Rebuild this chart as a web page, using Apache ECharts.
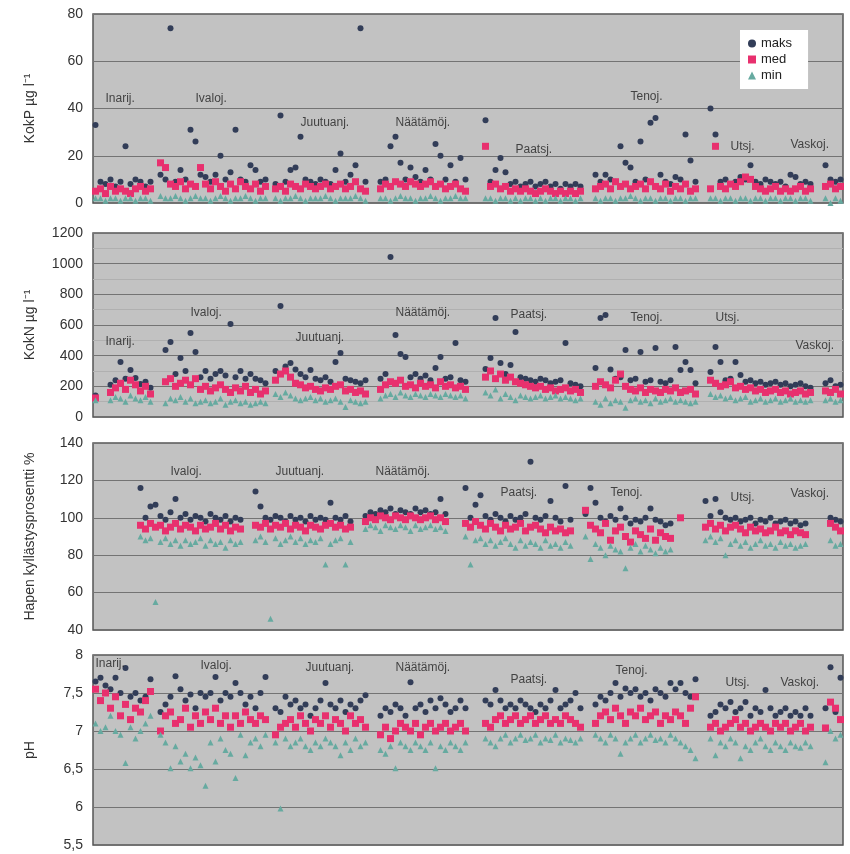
<!DOCTYPE html>
<html>
<head>
<meta charset="utf-8">
<script src="https://cdn.jsdelivr.net/npm/echarts@6/dist/echarts.min.js"></script>
<style>
  html, body { margin: 0; padding: 0; background: #fff; }
  #chart { width: 850px; height: 854px; }
</style>
</head>
<body>
<div id="chart"></div>
<script>
var _ = '-';

var riverNames = ['Inarij.', 'Ivaloj.', 'Juutuanj.', 'Näätämöj.', 'Paatsj.', 'Tenoj.', 'Utsj.', 'Vaskoj.'];
var seriesNames = ['maks', 'med', 'min'];

// KokP µg/l
var kokpMaks = [
  33, 9, 8, 10, 7, 9, 24, 8, 10, 9, 7, 9, _,
  12, 10, 74, 9, 14, 10, 31, 26, 12, 11, 9, 12, 20, 10, 13, 31, 10, 9, 16, 14, 9, 10, _,
  8, 37, 9, 14, 15, 28, 10, 9, 8, 10, 9, 8, 14, 21, 9, 12, 16, 74, 9, _, _,
  9, 10, 24, 28, 17, 10, 15, 11, 9, 14, 10, 25, 20, 10, 16, 9, 19, 10, _, _, _,
  35, 9, 14, 19, 13, 8, 9, 7, 8, 9, 7, 8, 9, 7, 8, 6, 8, 7, 8, 7, _, _,
  12, 9, 12, 10, 9, 24, 17, 15, 9, 26, 10, 34, 36, 12, 9, 8, 11, 10, 29, 18, 9, _, _,
  40, 29, 9, 10, 8, 9, 11, 10, 16, 9, 8, 10, 9, 8, 9, 7, 12, 11, 8, 9, 8, _, _,
  16, 10, 9, 10
];
var kokpMed = [
  5, 6, 4, 7, 5, 6, 5, 4, 6, 7, 5, 6, _,
  17, 15, 8, 7, 9, 6, 8, 7, 15, 8, 6, 9, 7, 5, 8, 6, 9, 7, 6, 8, 5, 7, _,
  6, 7, 5, 8, 7, 6, 8, 7, 6, 7, 8, 6, 7, 8, 6, 7, 9, 6, 5, _, _,
  6, 8, 7, 9, 8, 7, 9, 8, 7, 8, 9, 7, 8, 6, 7, 8, 6, 5, _, _, _,
  24, 7, 8, 6, 7, 5, 6, 5, 6, 5, 4, 5, 6, 5, 4, 5, 4, 5, 4, 5, _, _,
  6, 7, 8, 6, 9, 7, 8, 6, 7, 8, 6, 9, 7, 6, 8, 5, 7, 6, 8, 5, 6, _, _,
  6, 24, 7, 6, 8, 7, 9, 11, 10, 7, 6, 5, 6, 7, 5, 6, 5, 6, 7, 5, 6, _, _,
  7, 8, 6, 7
];
var kokpMin = [
  2, 2, 1, 2, 2, 1, 2, 2, 1, 2, 2, 1, _,
  3, 2, 2, 3, 2, 1, 2, 3, 2, 2, 1, 2, 3, 2, 1, 2, 2, 3, 2, 1, 2, 2, _,
  2, 1, 2, 2, 3, 2, 1, 2, 2, 2, 3, 2, 1, 2, 2, 2, 3, 2, 1, _, _,
  2, 2, 1, 2, 3, 2, 2, 1, 2, 2, 3, 2, 1, 2, 2, 3, 2, 2, _, _, _,
  2, 2, 1, 2, 2, 1, 2, 1, 2, 2, 1, 2, 1, 2, 2, 1, 2, 2, 1, 2, _, _,
  2, 1, 2, 2, 1, 2, 2, 3, 2, 1, 2, 2, 1, 2, 2, 1, 2, 2, 1, 2, 2, _, _,
  2, 2, 1, 2, 2, 1, 2, 2, 1, 2, 2, 1, 2, 2, 1, 2, 2, 1, 2, 2, 1, _, _,
  2, 0, 2, 1
];

// KokN µg/l
var koknMaks = [
  140, _, _, 210, 240, 358, 250, 306, 254, 215, 230, 190, _,
  _, 437, 489, 280, 385, 300, 548, 424, 260, 300, 250, 280, 300, 270, 607, 260, 300, 250, 280, 250, 240, 220, _,
  300, 724, 330, 352, 310, 280, 260, 306, 250, 240, 260, 230, 358, 417, 250, 240, 230, 220, 240, _, _,
  250, 280, 1043, 535, 411, 391, 260, 280, 250, 270, 240, 320, 391, 250, 260, 483, 240, 230, _, _, _,
  313, 385, 645, 352, 280, 339, 554, 260, 250, 240, 230, 250, 240, 220, 230, 240, 483, 220, 210, 200, _, _,
  320, 646, 665, 310, 250, 260, 437, 240, 250, 424, 230, 240, 450, 230, 220, 240, 457, 306, 358, 306, 220, _, _,
  293, 457, 358, 240, 250, 358, 274, 230, 240, 220, 230, 210, 220, 230, 210, 220, 200, 210, 220, 200, 190, _, _,
  220, 240, 200, 210
];
var koknMed = [
  124, _, _, 160, 190, 220, 180, 240, 210, 170, 200, 150, _,
  _, 230, 250, 200, 220, 240, 210, 250, 180, 200, 170, 190, 210, 180, 160, 190, 170, 200, 160, 180, 150, 170, _,
  240, 280, 300, 260, 220, 210, 190, 200, 180, 170, 190, 180, 200, 210, 170, 180, 160, 170, 150, _, _,
  180, 210, 230, 220, 240, 200, 210, 190, 220, 200, 210, 190, 230, 200, 210, 190, 200, 180, _, _, _,
  260, 300, 250, 280, 240, 260, 230, 220, 210, 200, 190, 200, 180, 190, 170, 180, 190, 170, 180, 160, _, _,
  200, 230, 210, 190, 240, 280, 200, 180, 170, 190, 160, 180, 170, 160, 180, 170, 190, 160, 170, 180, 150, _, _,
  240, 220, 200, 210, 230, 190, 200, 180, 190, 170, 180, 160, 170, 180, 160, 170, 150, 160, 170, 150, 160, _, _,
  170, 160, 180, 150
];
var koknMin = [
  110, _, _, 110, 130, 120, 100, 140, 120, 110, 130, 100, _,
  _, 90, 120, 110, 130, 100, 120, 90, 100, 110, 90, 100, 120, 80, 100, 110, 90, 100, 80, 90, 100, 90, _,
  150, 130, 160, 140, 120, 110, 120, 130, 110, 120, 100, 110, 120, 100, 65, 110, 100, 90, 100, _, _,
  120, 140, 150, 130, 160, 140, 130, 150, 140, 130, 150, 140, 130, 150, 140, 130, 140, 120, _, _, _,
  160, 140, 180, 120, 150, 130, 110, 140, 130, 120, 130, 140, 120, 130, 140, 120, 130, 120, 110, 120, _, _,
  100, 80, 120, 90, 110, 100, 60, 110, 120, 100, 110, 90, 120, 100, 110, 120, 100, 110, 100, 90, 100, _, _,
  150, 130, 140, 120, 130, 110, 120, 130, 100, 110, 120, 100, 110, 120, 100, 110, 120, 100, 110, 100, 110, _, _,
  110, 120, 100, 110
];

// Hapen kyllästysprosentti %
var hapMaks = [
  _, _, _, _, _, _, _, _, _,
  116, 100, 106, 107, 101, 99, 103, 110, 100, 102, 99, 101, 100, 98, 102, 100, 99, 101, 98, 100, 99, _, _,
  114, 106, 100, 99, 101, 100, 98, 101, 99, 100, 98, 101, 99, 100, 99, 108, 100, 99, 101, 98, _, _,
  101, 103, 102, 104, 103, 105, 102, 104, 103, 102, 105, 103, 104, 102, 103, 110, 102, _, _, _,
  116, 100, 107, 112, 101, 99, 102, 100, 98, 101, 99, 100, 102, 130, 100, 99, 101, 109, 100, 98, 117, 99, _, _,
  102, 116, 108, 100, 98, 101, 99, 105, 100, 97, 99, 98, 100, 105, 99, 98, 96, 97, _, _, _, _, _, _,
  109, 101, 110, 103, 100, 99, 100, 98, 99, 100, 97, 99, 98, 100, 97, 98, 99, 97, 98, 96, 97, _, _, _, _,
  100, 99, 98
];
var hapMed = [
  _, _, _, _, _, _, _, _, _,
  96, 94, 97, 95, 96, 93, 95, 97, 94, 96, 95, 93, 96, 94, 95, 97, 94, 96, 93, 95, 94, _, _,
  96, 95, 97, 94, 96, 95, 97, 94, 96, 95, 93, 96, 95, 94, 96, 97, 95, 96, 94, 95, _, _,
  98, 100, 99, 101, 100, 99, 101, 100, 99, 101, 100, 99, 100, 101, 99, 100, 98, _, _, _,
  97, 95, 98, 96, 94, 97, 95, 93, 96, 94, 95, 97, 93, 95, 96, 94, 92, 95, 93, 94, 92, 93, _, _,
  104, 96, 94, 92, 97, 88, 93, 95, 90, 87, 93, 91, 89, 94, 88, 92, 90, 89, _, 100, _, _, _, _,
  95, 97, 94, 96, 93, 95, 96, 94, 92, 95, 93, 94, 92, 93, 95, 92, 93, 91, 93, 92, 91, _, _, _, _,
  97, 95, 93
];
var hapMin = [
  _, _, _, _, _, _, _, _, _,
  90, 88, 89, 55, 87, 89, 86, 88, 85, 88, 86, 87, 89, 85, 88, 86, 87, 84, 88, 86, 87, _, _,
  88, 90, 87, 46, 89, 86, 88, 90, 87, 89, 86, 88, 87, 89, 75, 86, 88, 89, 75, 87, _, _,
  94, 96, 95, 93, 96, 95, 94, 96, 95, 93, 96, 94, 95, 96, 94, 95, 93, _, _, _,
  90, 75, 88, 89, 86, 88, 85, 87, 89, 86, 84, 88, 85, 87, 86, 84, 88, 85, 86, 84, 87, 85, _, _,
  90, 78, 86, 84, 80, 85, 83, 82, 73, 84, 86, 82, 85, 83, 81, 84, 82, 83, _, _, _, _, _, _,
  88, 90, 87, 89, 80, 86, 88, 85, 87, 84, 86, 88, 85, 86, 84, 87, 85, 86, 84, 85, 86, _, _, _, _,
  88, 85, 86
];

// pH
var phMaks = [
  7.65, 7.7, 7.6, 7.55, 7.7, 7.5, 7.83, 7.45, 7.5, 7.4, 7.45, 7.68, _,
  7.25, 7.35, 7.45, 7.72, 7.55, 7.4, 7.48, 7.3, 7.5, 7.45, 7.5, 7.71, 7.4, 7.5, 7.45, 7.63, 7.5, 7.35, 7.45, 7.3, 7.5, 7.71, _,
  7.3, 7.25, 7.45, 7.35, 7.4, 7.3, 7.35, 7.2, 7.3, 7.4, 7.63, 7.35, 7.3, 7.4, 7.25, 7.35, 7.3, 7.4, 7.47, _, _,
  7.2, 7.3, 7.25, 7.35, 7.3, 7.2, 7.64, 7.3, 7.35, 7.25, 7.4, 7.3, 7.43, 7.35, 7.25, 7.3, 7.4, 7.3, _, _, _,
  7.4, 7.35, 7.54, 7.4, 7.3, 7.35, 7.3, 7.4, 7.35, 7.3, 7.25, 7.35, 7.3, 7.4, 7.54, 7.3, 7.35, 7.4, 7.5, 7.3, _, _,
  7.35, 7.45, 7.4, 7.5, 7.63, 7.45, 7.56, 7.5, 7.55, 7.45, 7.5, 7.4, 7.55, 7.5, 7.45, 7.63, 7.55, 7.63, 7.5, 7.45, 7.68, _, _,
  7.2, 7.25, 7.35, 7.3, 7.38, 7.25, 7.3, 7.38, 7.2, 7.3, 7.25, 7.54, 7.3, 7.2, 7.25, 7.3, 7.2, 7.25, 7.2, 7.3, 7.2, _, _,
  7.3, 7.84, 7.25, 7.7
];
var phMed = [
  7.55, 7.4, 7.5, 7.3, 7.45, 7.2, 7.35, 7.15, 7.3, 7.25, 7.4, 7.52, _,
  7.0, 7.2, 7.25, 7.1, 7.15, 7.3, 7.05, 7.2, 7.1, 7.25, 7.15, 7.3, 7.1, 7.2, 7.05, 7.2, 7.1, 7.25, 7.15, 7.1, 7.2, 7.15, _,
  6.95, 7.05, 7.1, 7.15, 7.05, 7.2, 7.1, 7.0, 7.15, 7.1, 7.2, 7.05, 7.15, 7.1, 7.0, 7.2, 7.1, 7.15, 7.05, _, _,
  6.95, 7.05, 6.9, 7.0, 7.1, 7.05, 7.0, 7.1, 6.95, 7.05, 7.1, 7.0, 7.05, 7.1, 7.0, 7.05, 7.1, 7.0, _, _, _,
  7.1, 7.05, 7.15, 7.2, 7.1, 7.15, 7.2, 7.1, 7.15, 7.2, 7.1, 7.15, 7.2, 7.1, 7.15, 7.1, 7.2, 7.15, 7.1, 7.05, _, _,
  7.1, 7.2, 7.25, 7.15, 7.3, 7.2, 7.1, 7.25, 7.2, 7.3, 7.15, 7.2, 7.25, 7.1, 7.2, 7.15, 7.25, 7.2, 7.1, 7.3, 7.45, _, _,
  7.05, 7.1, 7.0, 7.05, 7.1, 7.15, 7.05, 7.1, 7.0, 7.05, 7.1, 7.05, 7.0, 7.1, 7.05, 7.1, 7.0, 7.05, 7.1, 7.0, 7.05, _, _,
  7.04, 7.38, 7.3, 7.15
];
var phMin = [
  7.1, 7.0, 7.05, 7.2, 7.0, 6.95, 6.58, 7.05, 6.9, 7.0, 7.1, 7.2, _,
  6.95, 6.85, 6.51, 6.8, 6.6, 6.7, 6.51, 6.65, 6.55, 6.28, 6.85, 6.6, 6.9, 6.75, 6.7, 6.38, 6.95, 6.68, 6.85, 6.9, 6.8, 6.95, _,
  6.85, 5.98, 6.9, 6.8, 6.85, 6.9, 6.8, 6.75, 6.85, 6.8, 6.9, 6.85, 6.8, 6.68, 6.85, 6.75, 6.9, 6.8, 6.85, _, _,
  6.75, 6.7, 6.8, 6.51, 6.85, 6.8, 6.75, 6.85, 6.8, 6.75, 6.85, 6.51, 6.8, 6.75, 6.85, 6.8, 6.75, 6.85, _, _, _,
  6.9, 6.85, 6.8, 6.9, 6.95, 6.85, 6.9, 6.95, 6.88, 6.9, 6.95, 6.85, 6.9, 6.88, 6.95, 6.85, 6.9, 6.88, 6.85, 6.9, _, _,
  6.95, 6.9, 6.85, 6.95, 6.9, 6.7, 6.85, 6.9, 6.95, 6.85, 6.9, 6.95, 6.88, 6.9, 6.85, 6.95, 6.9, 6.85, 6.8, 6.75, 6.64, _, _,
  6.9, 6.68, 6.85, 6.8, 6.9, 6.85, 6.64, 6.8, 6.75, 6.85, 6.9, 6.8, 6.75, 6.85, 6.8, 6.75, 6.85, 6.8, 6.78, 6.85, 6.8, _, _,
  6.59, 7.0, 6.9, 6.95
];

var slotCount = 150;
var slots = [];
for (var i = 0; i < slotCount; i++) slots.push(i);

// where each river name sits: [slot, value], one per river (null = no label)
var panels = [
  { title: 'KokP µg l⁻¹', min: 0, max: 80, interval: 20, top: 14, height: 189,
    data: [kokpMaks, kokpMed, kokpMin],
    labels: [[2, 44], [20, 44], [41, 34], [60, 34], [84, 22.4], [107, 45], [127, 23.7], [139, 24.5]] },
  { title: 'KokN µg l⁻¹', min: 0, max: 1200, interval: 200, top: 233, height: 184, minor: true,
    data: [koknMaks, koknMed, koknMin],
    labels: [[2, 489], [19, 678], [40, 515], [60, 678], [83, 665], [107, 646], [124, 646], [140, 463]] },
  { title: 'Hapen kyllästysprosentti %', min: 40, max: 140, interval: 20, top: 443, height: 187,
    data: [hapMaks, hapMed, hapMin],
    labels: [null, [15, 124.5], [36, 124.5], [56, 124.5], [81, 113.3], [103, 113.3], [127, 110.6], [139, 112.7]] },
  { title: 'pH', min: 5.5, max: 8, interval: 0.5, top: 655, height: 190, comma: true,
    data: [phMaks, phMed, phMin],
    labels: [[0, 7.88], [21, 7.855], [42, 7.83], [60, 7.83], [83, 7.68], [104, 7.8], [126, 7.64], [137, 7.64]] }
];

var marks = [
  { symbol: 'circle', size: 6, color: '#323d58' },
  { symbol: 'rect', size: 7, color: '#e8306e' },
  { symbol: 'triangle', size: 6, color: '#66aaa0' }
];

var font = 'Liberation Sans, Arial, sans-serif';
var grid = [], xAxis = [], yAxis = [], series = [];

panels.forEach(function(p, k) {
  grid.push({ left: 93, right: 7, top: p.top, height: p.height, show: true,
    backgroundColor: '#c2c2c2', borderColor: '#555', borderWidth: 1.5 });
  xAxis.push({ type: 'category', gridIndex: k, data: slots, boundaryGap: true,
    axisLine: { show: false }, axisTick: { show: false }, axisLabel: { show: false }, splitLine: { show: false } });
  yAxis.push({
    type: 'value', gridIndex: k, min: p.min, max: p.max, interval: p.interval,
    name: p.title, nameLocation: 'middle', nameGap: 56,
    nameTextStyle: { fontSize: 14, color: '#333', fontFamily: font },
    axisLine: { show: false }, axisTick: { show: false },
    axisLabel: { fontSize: 14, color: '#333', fontFamily: font, margin: 10,
      formatter: function(v) { return p.comma ? String(v).replace('.', ',') : String(v); } },
    splitLine: { show: true, lineStyle: { color: '#737373', width: 1 } },
    minorTick: { show: false, splitNumber: 2 },
    minorSplitLine: { show: !!p.minor, lineStyle: { color: '#b0b0b0', width: 1 } }
  });
  p.data.forEach(function(arr, s) {
    series.push({
      name: seriesNames[s], type: 'scatter', xAxisIndex: k, yAxisIndex: k,
      symbol: marks[s].symbol, symbolSize: marks[s].size,
      itemStyle: { color: marks[s].color, opacity: 1 },
      data: arr, silent: true
    });
  });
  var lab = [];
  p.labels.forEach(function(pos, r) {
    if (pos) lab.push([pos[0], pos[1], riverNames[r]]);
  });
  series.push({
    name: 'labels' + k, type: 'scatter', xAxisIndex: k, yAxisIndex: k,
    symbolSize: 0, silent: true, data: lab, z: 5,
    label: { show: true, position: 'right', distance: 0, fontSize: 12, color: '#222', fontFamily: font,
      formatter: function(q) { return q.data[2]; } }
  });
});

var chart = echarts.init(document.getElementById('chart'));
chart.setOption({
  animation: false,
  backgroundColor: '#fff',
  grid: grid,
  xAxis: xAxis,
  yAxis: yAxis,
  legend: {
    data: seriesNames, orient: 'vertical', left: 740, top: 30,
    backgroundColor: '#fff', padding: [7, 16, 7, 8], itemGap: 3,
    itemWidth: 8, itemHeight: 8,
    textStyle: { fontSize: 13, color: '#222', fontFamily: font }
  },
  series: series
});
</script>
</body>
</html>
